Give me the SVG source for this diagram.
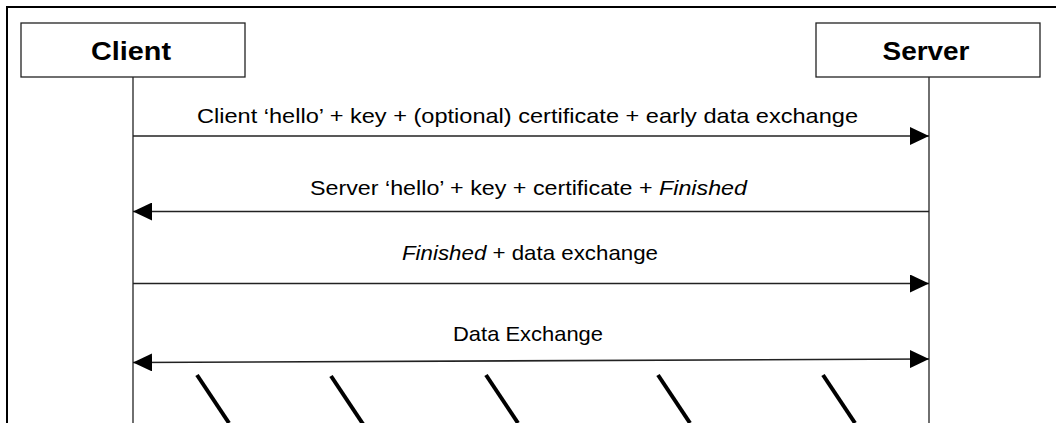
<svg xmlns="http://www.w3.org/2000/svg" width="1056" height="423" viewBox="0 0 1056 423">
<style>
.box{fill:#fff;stroke:#222;stroke-width:1.3}
.life{stroke:#222;stroke-width:1.3}
.msg{stroke:#222;stroke-width:1.6;fill:none}
.head{font-family:"Liberation Sans",Arial,sans-serif;font-weight:bold;font-size:26px;fill:#000}
.lbl{font-family:"Liberation Sans",Arial,sans-serif;font-size:21px;fill:#000}
.slash{stroke:#000;stroke-width:4}
</style>
<defs>
<marker id="ah" viewBox="0 0 19 18" refX="19" refY="9" markerWidth="19" markerHeight="18" markerUnits="userSpaceOnUse" orient="auto-start-reverse">
<path d="M0,0 L19,9 L0,18 Z" fill="#000"/>
</marker>
</defs>
<rect x="0" y="0" width="1056" height="423" fill="#fff"/>
<rect x="7" y="7" width="1070" height="430" fill="none" stroke="#000" stroke-width="2"/>
<g id="client">
<rect class="box" x="21" y="23" width="224" height="54"/>
<text class="head" x="131" y="60" text-anchor="middle" textLength="80" lengthAdjust="spacingAndGlyphs">Client</text>
<line class="life" x1="133" y1="77" x2="133" y2="423"/>
</g>
<g id="server">
<rect class="box" x="816" y="23" width="224" height="54"/>
<text class="head" x="926" y="60" text-anchor="middle" textLength="87" lengthAdjust="spacingAndGlyphs">Server</text>
<line class="life" x1="929" y1="77" x2="929" y2="423"/>
</g>
<g id="connectors">
<line class="msg" x1="133" y1="136" x2="929" y2="136" marker-end="url(#ah)"/>
<line class="msg" x1="929" y1="211.5" x2="133" y2="211.5" marker-end="url(#ah)"/>
<line class="msg" x1="133" y1="283.5" x2="929" y2="283.5" marker-end="url(#ah)"/>
<line class="msg" x1="133" y1="362.5" x2="929" y2="359" marker-start="url(#ah)" marker-end="url(#ah)"/>
</g>
<g id="labels">
<text class="lbl" x="197" y="123" textLength="661" lengthAdjust="spacingAndGlyphs">Client ‘hello’ + key + (optional) certificate + early data exchange</text>
<text class="lbl" x="310" y="195" textLength="437" lengthAdjust="spacingAndGlyphs">Server ‘hello’ + key + certificate + <tspan font-style="italic">Finished</tspan></text>
<text class="lbl" x="402" y="260" textLength="256" lengthAdjust="spacingAndGlyphs"><tspan font-style="italic">Finished</tspan> + data exchange</text>
<text class="lbl" x="453" y="341" textLength="150" lengthAdjust="spacingAndGlyphs">Data Exchange</text>
</g>
<g id="breaks">
<line class="slash" x1="197" y1="375" x2="229" y2="423"/>
<line class="slash" x1="331" y1="376" x2="363" y2="424"/>
<line class="slash" x1="486" y1="375" x2="518" y2="423"/>
<line class="slash" x1="658" y1="375" x2="690" y2="423"/>
<line class="slash" x1="823" y1="375" x2="855" y2="423"/>
</g>
</svg>
